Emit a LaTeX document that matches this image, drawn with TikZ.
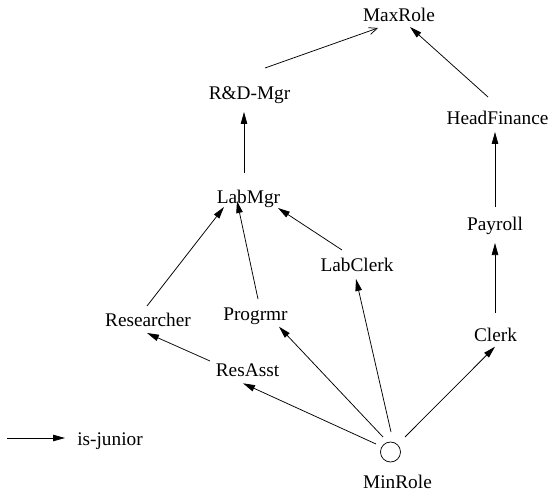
\documentclass[tikz,border=0pt]{standalone}
\usepackage{fontspec}
\setmainfont{Liberation Serif}
\usetikzlibrary{arrows.meta}
\begin{document}
\begin{tikzpicture}[x=1pt,y=1pt,
  role/.style={inner sep=0pt,text height=12.8pt,text depth=0pt,font=\fontsize{19.3}{23}\selectfont},
  isj/.style={-{Triangle[length=12pt,width=6.5pt]},line width=0.75pt},
  openarr/.style={-{Straight Barb[length=8pt,width=7pt,line width=0.75pt]},line width=0.75pt}]
\useasboundingbox (0,0) rectangle (549,-492);
% roles (centre of cap-height box)
\node[role] (MaxRole) at (399,-15.6) {MaxRole};
\node[role] (RDMgr) at (249.5,-93.6) {R\&D-Mgr};
\node[role] (HeadFinance) at (497.5,-118.6) {HeadFinance};
\node[role] (LabMgr) at (248.5,-196.6) {LabMgr};
\node[role] (Payroll) at (495,-223.6) {Payroll};
\node[role] (LabClerk) at (357,-264.6) {LabClerk};
\node[role] (Researcher) at (148,-319.6) {Researcher};
\node[role] (Progrmr) at (255.5,-313.6) {Progrmr};
\node[role] (Clerk) at (495.5,-334.6) {Clerk};
\node[role] (ResAsst) at (247.5,-369.6) {ResAsst};
\node[circle,draw,line width=0.75pt,minimum size=20pt,inner sep=0pt] (MinRole) at (390.5,-452) {};
\node[role] (MinRoleLabel) at (397.5,-481.6) {MinRole};
% legend
\coordinate (legA) at (7,-438);
\coordinate (legB) at (65,-438);
\node[role] (legText) at (110,-438.6) {is-junior};
\draw[isj] (legA) -- (legB);
% edges
\draw[openarr] ([shift={(15.5,25.6)}]RDMgr.center) -- ([shift={(-21,-12.4)}]MaxRole.center);
\draw[isj] ([shift={(-9.5,21.6)}]HeadFinance.center) -- ([shift={(11,-11.4)}]MaxRole.center);
\draw[isj] ([shift={(-4.5,23.6)}]LabMgr.center) -- ([shift={(-5.5,-18.4)}]RDMgr.center);
\draw[isj] ([shift={(-1,13.6)}]Researcher.center) -- ([shift={(-24.5,-10.4)}]LabMgr.center);
\draw[isj] ([shift={(2.5,14.6)}]Progrmr.center) -- ([shift={(-11.5,-4.4)}]LabMgr.center);
\draw[isj] ([shift={(-15,14.6)}]LabClerk.center) -- ([shift={(29.5,-11.4)}]LabMgr.center);
\draw[isj] ([shift={(-37.5,8.6)}]ResAsst.center) -- ([shift={(-1,-13.4)}]Researcher.center);
\draw[isj] ([shift={(-14.5,8)}]MinRole.center) -- ([shift={(-4.5,-13.7)}]ResAsst.center);
\draw[isj] ([shift={(-7.5,15)}]MinRole.center) -- ([shift={(23.5,-13.1)}]Progrmr.center);
\draw[isj] ([shift={(0.5,20)}]MinRole.center) -- ([shift={(-1,-14.4)}]LabClerk.center);
\draw[isj] ([shift={(14.5,15)}]MinRole.center) -- ([shift={(-0.5,-12.1)}]Clerk.center);
\draw[isj] ([shift={(-0.5,21.6)}]Clerk.center) -- ([shift={(0,-19.4)}]Payroll.center);
\draw[isj] ([shift={(0,16.6)}]Payroll.center) -- ([shift={(-2.5,-13.4)}]HeadFinance.center);
\end{tikzpicture}
\end{document}
